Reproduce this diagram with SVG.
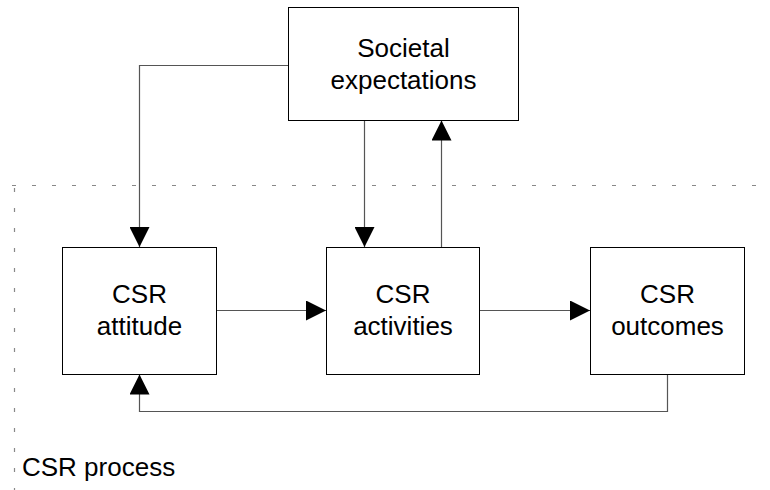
<svg xmlns="http://www.w3.org/2000/svg" width="770" height="490" viewBox="0 0 770 490">
<style>
.box{fill:#fff;stroke:#000;stroke-width:1}
.lbl{font-family:"Liberation Sans",Arial,sans-serif;font-size:26px;fill:#000;text-anchor:middle}
.con{fill:none;stroke:#555;stroke-width:1.2}
.dot{fill:none;stroke:#888;stroke-width:1.2;stroke-dasharray:4 16}
</style>
<defs>
<marker id="ah" markerUnits="userSpaceOnUse" markerWidth="20" markerHeight="20" viewBox="0 0 20 20" refX="20" refY="10" orient="auto">
<path d="M0,0 L20,10 L0,20 Z" fill="#000"/>
</marker>
</defs>
<g id="boundary">
<path class="dot" d="M12,185.5 H770"/>
<path class="dot" d="M14.5,188 V490"/>
<text x="22" y="476" style="font-family:'Liberation Sans',Arial,sans-serif;font-size:26px">CSR process</text>
</g>
<g id="connectors">
<path class="con" d="M288,65.5 H139.5 V247" marker-end="url(#ah)"/>
<path class="con" d="M364.5,120.5 V247" marker-end="url(#ah)"/>
<path class="con" d="M441.5,247 V120.5" marker-end="url(#ah)"/>
<path class="con" d="M216.5,310.5 H326" marker-end="url(#ah)"/>
<path class="con" d="M479.5,310.5 H590" marker-end="url(#ah)"/>
<path class="con" d="M667.5,374.5 V411.5 H139.5 V374.5" marker-end="url(#ah)"/>
</g>
<g id="societal">
<rect class="box" x="288.5" y="7.5" width="230" height="113"/>
<text class="lbl" x="403.5" y="57">Societal</text>
<text class="lbl" x="403.5" y="89">expectations</text>
</g>
<g id="attitude">
<rect class="box" x="62.5" y="247.5" width="154" height="127"/>
<text class="lbl" x="139.5" y="303">CSR</text>
<text class="lbl" x="139.5" y="335">attitude</text>
</g>
<g id="activities">
<rect class="box" x="326.5" y="247.5" width="153" height="127"/>
<text class="lbl" x="403" y="303">CSR</text>
<text class="lbl" x="403" y="335">activities</text>
</g>
<g id="outcomes">
<rect class="box" x="590.5" y="247.5" width="154" height="127"/>
<text class="lbl" x="667.5" y="303">CSR</text>
<text class="lbl" x="667.5" y="335">outcomes</text>
</g>
</svg>
